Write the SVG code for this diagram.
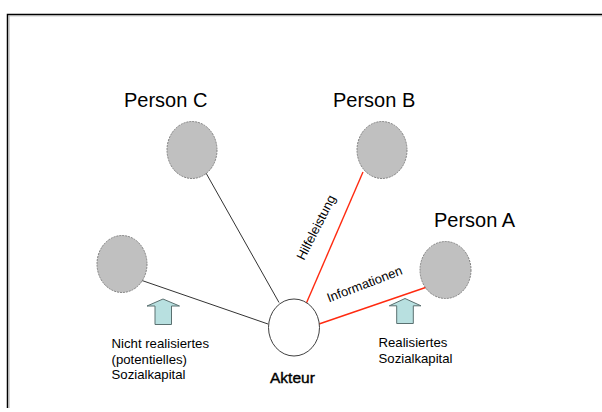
<svg xmlns="http://www.w3.org/2000/svg" width="602" height="412" viewBox="0 0 602 412">
<style>
.t{font-family:"Liberation Sans",Arial,sans-serif;fill:#000}
.p{fill:#c0c0c0;stroke:#808080;stroke-width:1;stroke-dasharray:2 1}
.a{fill:#fff;stroke:#404040;stroke-width:1}
.k{stroke:#333;stroke-width:1;fill:none}
.r{stroke:#ff2a10;stroke-width:1.4;fill:none}
.ar{fill:#b8e0e0;stroke:#5a7070;stroke-width:1}
</style>
<rect width="602" height="412" fill="#fff"/>
<g id="frame">
<path d="M7.5,408 V14.5 H602" fill="none" stroke="#000" stroke-width="1.5"/>
<path d="M9,408 V15.8 H602" fill="none" stroke="#aaa" stroke-width="1"/>
</g>
<g id="connectors">
<line class="k" x1="206" y1="173" x2="279" y2="302.5"/>
<line class="k" x1="142" y1="280.5" x2="268" y2="324"/>
<line class="r" x1="363" y1="172" x2="306" y2="304"/>
<line class="r" x1="427" y1="287" x2="319" y2="324"/>
<text class="t" font-size="13" transform="translate(304,261) rotate(-63)">Hilfeleistung</text>
<text class="t" font-size="13" transform="translate(329,302.5) rotate(-21)">Informationen</text>
</g>
<g id="personC">
<ellipse class="p" cx="192" cy="150" rx="25" ry="28.5"/>
<text class="t" font-size="20" x="124" y="107">Person C</text>
</g>
<g id="personB">
<ellipse class="p" cx="382" cy="150" rx="25" ry="28.5"/>
<text class="t" font-size="20" x="333" y="107">Person B</text>
</g>
<g id="personA">
<ellipse class="p" cx="445.5" cy="270" rx="25.5" ry="28.5"/>
<text class="t" font-size="20" x="434" y="227">Person A</text>
</g>
<g id="personX">
<ellipse class="p" cx="122" cy="264" rx="25" ry="28.5"/>
</g>
<g id="akteur">
<ellipse class="a" cx="294" cy="327.5" rx="25.5" ry="28.5"/>
<text class="t" font-size="15.5" stroke="#000" stroke-width="0.4" x="270" y="382.5">Akteur</text>
</g>
<g id="arrowLeft">
<path class="ar" d="M163,299 L179.5,306 H171.5 V324.5 H155 V306 H147 Z"/>
<text class="t" font-size="13.2"><tspan x="111.5" y="347.7">Nicht realisiertes</tspan><tspan x="111.5" y="363.5">(potentielles)</tspan><tspan x="111.5" y="379.3">Sozialkapital</tspan></text>
</g>
<g id="arrowRight">
<path class="ar" d="M405,298.5 L421,305.8 H413.3 V323.5 H396.7 V305.8 H389.3 Z"/>
<text class="t" font-size="13.2"><tspan x="378.5" y="346.7">Realisiertes</tspan><tspan x="378.5" y="363.3">Sozialkapital</tspan></text>
</g>
</svg>
